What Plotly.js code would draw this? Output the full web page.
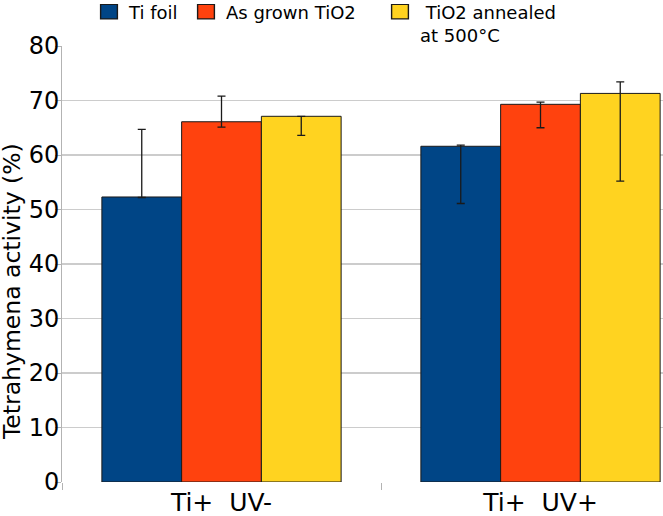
<!DOCTYPE html>
<html>
<head>
<meta charset="utf-8">
<script src="https://cdn.plot.ly/plotly-3.0.1.min.js"></script>
<style>
html,body{margin:0;padding:0;background:#fff;}
#chart{width:663px;height:516px;}
</style>
</head>
<body>
<div id="chart"></div>
<script>
// Data
const categories = ["Ti+\u00a0\u00a0UV-", "Ti+\u00a0\u00a0UV+"];
const seriesNames = ["Ti foil", "As grown TiO2", "\u00a0TiO2 annealed<br>at 500\u00b0C"];
const tiFoil = [52.3, 61.6];
const tiFoilErrPlus = [12.4, 0.2];
const tiFoilErrMinus = [0.1, 10.5];
const asGrown = [66.1, 69.3];
const asGrownErrPlus = [4.7, 0.4];
const asGrownErrMinus = [1.0, 4.3];
const annealed = [67.1, 71.3];
const annealedErrPlus = [0.0, 2.1];
const annealedErrMinus = [3.5, 16.1];
const yTicks = [0, 10, 20, 30, 40, 50, 60, 70, 80];
const yTitle = "Tetrahymena activity (%)";

const colors = ["#004586", "#ff420e", "#ffd320"];
const font = "DejaVu Sans, sans-serif";

function mk(name, y, ep, em, color, legend) {
  return {
    type: "bar", name: name, x: categories, y: y, legend: legend, showlegend: true,
    marker: {color: color, line: {color: "#1a1a1a", width: 1}},
    error_y: {type: "data", symmetric: false, array: ep, arrayminus: em,
              color: "#1a1a1a", thickness: 1.3, width: 4}
  };
}

const data = [
  mk(seriesNames[0], tiFoil, tiFoilErrPlus, tiFoilErrMinus, colors[0], "legend"),
  mk(seriesNames[1], asGrown, asGrownErrPlus, asGrownErrMinus, colors[1], "legend2"),
  mk(seriesNames[2], annealed, annealedErrPlus, annealedErrMinus, colors[2], "legend3")
];

const legBase = {xref: "container", yref: "paper", yanchor: "top", xanchor: "left",
  y: 1.1204, bgcolor: "rgba(0,0,0,0)", borderwidth: 0, valign: "top",
  font: {family: font, size: 18, color: "#000"}};

const layout = {
  width: 663, height: 516,
  showlegend: true,
  margin: {l: 62, r: 0, t: 46, b: 34, pad: 0, autoexpand: false},
  paper_bgcolor: "#fff", plot_bgcolor: "#fff",
  font: {family: font, size: 24, color: "#000"},
  barmode: "group", bargap: 0.25, bargroupgap: 0,
  legend: Object.assign({}, legBase, {x: 89 / 663}),
  legend2: Object.assign({}, legBase, {x: 186 / 663}),
  legend3: Object.assign({}, legBase, {x: 380 / 663}),
  xaxis: {
    type: "category", range: [-0.5, -0.5 + 601 / 319],
    tickson: "boundaries", ticks: "outside", ticklen: 7, tickcolor: "#b3b3b3", tickwidth: 1,
    showline: false, showgrid: false, zeroline: false, ticklabelstandoff: 3,
    tickfont: {family: font, size: 25, color: "#000"}
  },
  yaxis: {
    range: [0, 80], tickvals: yTicks, ticktext: yTicks.map(String),
    ticks: "outside", ticklen: 6, tickcolor: "#b3b3b3", tickwidth: 1,
    showline: true, linecolor: "#b3b3b3", linewidth: 1, ticklabelstandoff: -9,
    showgrid: true, gridcolor: "#cccccc", gridwidth: 1.5, zeroline: false,
    tickfont: {family: font, size: 24, color: "#000"}
  },
  annotations: [{
    text: yTitle, textangle: -90, showarrow: false,
    xref: "paper", yref: "paper", x: (12 - 62) / 601, y: (482 - 292) / 436,
    xanchor: "center", yanchor: "middle",
    font: {family: font, size: 23.5, color: "#000"}
  }]
};

Plotly.newPlot("chart", data, layout, {displayModeBar: false, staticPlot: true}).then(function () {
  // enlarge the legend swatches to the reference's size
  document.querySelectorAll("#chart .legendpoints path").forEach(function (p) {
    var t = p.getAttribute("transform") || "";
    p.setAttribute("transform", t + " scale(1.4,1.2)");
  });
});
</script>
</body>
</html>
